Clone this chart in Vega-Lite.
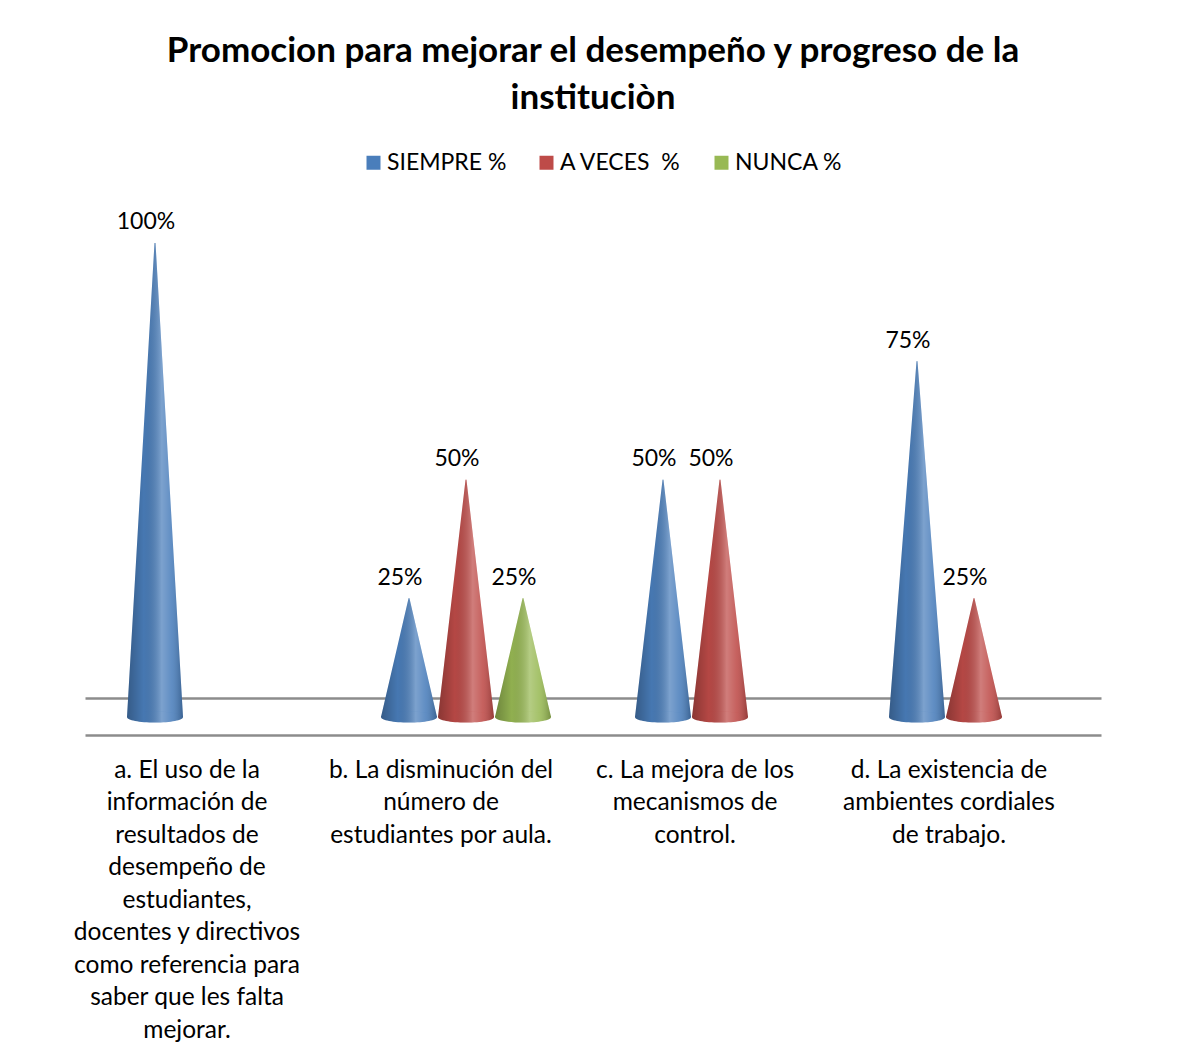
{
  "$schema": "https://vega.github.io/schema/vega-lite/v6.json",
  "width": 1016,
  "height": 474,
  "autosize": {"type": "none"},
  "padding": {"left": 85, "top": 243, "right": 76, "bottom": 342},
  "background": "white",
  "config": {"view": {"stroke": null}, "font": "Lato"},
  "title": {
    "text": ["Promocion para mejorar el desempeño y progreso de la", "instituciòn"],
    "fontSize": 35,
    "font": "Lato",
    "fontWeight": "bold",
    "lineHeight": 47,
    "anchor": "middle",
    "offset": 35,
    "color": "black"
  },
  "data": {
    "values": [
      {"cat": "a. El uso de la|información de|resultados de|desempeño de|estudiantes,|docentes y directivos|como referencia para|saber que les falta|mejorar.", "series": "SIEMPRE %", "value": 100},
      {"cat": "a. El uso de la|información de|resultados de|desempeño de|estudiantes,|docentes y directivos|como referencia para|saber que les falta|mejorar.", "series": "A VECES\u00a0 %", "value": 0},
      {"cat": "a. El uso de la|información de|resultados de|desempeño de|estudiantes,|docentes y directivos|como referencia para|saber que les falta|mejorar.", "series": "NUNCA %", "value": 0},
      {"cat": "b. La disminución del|número de|estudiantes por aula.", "series": "SIEMPRE %", "value": 25},
      {"cat": "b. La disminución del|número de|estudiantes por aula.", "series": "A VECES\u00a0 %", "value": 50},
      {"cat": "b. La disminución del|número de|estudiantes por aula.", "series": "NUNCA %", "value": 25},
      {"cat": "c. La mejora de los|mecanismos de|control.", "series": "SIEMPRE %", "value": 50},
      {"cat": "c. La mejora de los|mecanismos de|control.", "series": "A VECES\u00a0 %", "value": 50},
      {"cat": "c. La mejora de los|mecanismos de|control.", "series": "NUNCA %", "value": 0},
      {"cat": "d. La existencia de|ambientes cordiales|de trabajo.", "series": "SIEMPRE %", "value": 75},
      {"cat": "d. La existencia de|ambientes cordiales|de trabajo.", "series": "A VECES\u00a0 %", "value": 25},
      {"cat": "d. La existencia de|ambientes cordiales|de trabajo.", "series": "NUNCA %", "value": 0}
    ]
  },
  "transform": [{"filter": "datum.value > 0"}],
  "encoding": {
    "x": {
      "field": "cat",
      "type": "nominal",
      "sort": null,
      "scale": {"paddingInner": 0, "paddingOuter": 0},
      "axis": {
        "title": null,
        "labelAngle": 0,
        "labelExpr": "split(datum.label, '|')",
        "labelFontSize": 24.5,
        "labelLineHeight": 32.5,
        "labelOffset": -25,
        "labelPadding": 23,
        "labelBaseline": "top",
        "labelLimit": 0,
        "labelColor": "black",
        "labelFont": "Lato",
        "ticks": false,
        "domainColor": "#8c8c8c",
        "domainWidth": 2.5,
        "offset": 18
      }
    },
    "xOffset": {
      "field": "series",
      "type": "nominal",
      "scale": {"domain": ["SIEMPRE %", "A VECES\u00a0 %", "NUNCA %"], "range": [70, 184], "padding": 0}
    }
  },
  "layer": [
    {
      "transform": [
        {"calculate": "0", "as": "zero"},
        {"fold": ["zero", "value"], "as": ["end", "h"]},
        {"calculate": "datum.end == 'zero' ? 1 : 0", "as": "w"}
      ],
      "mark": {"type": "trail", "clip": true},
      "encoding": {
        "y": {"field": "h", "type": "quantitative", "scale": {"domain": [0, 100], "nice": false},
          "axis": {"values": [4], "grid": true, "gridColor": "#8c8c8c", "gridWidth": 2.5, "labels": false, "ticks": false, "domain": false, "title": null}},
        "size": {"field": "w", "type": "quantitative", "scale": {"domain": [0, 1], "range": [0, 56]}, "legend": null},
        "detail": [{"field": "cat"}, {"field": "series"}],
        "order": {"field": "h", "type": "quantitative"},
        "color": {
          "field": "series",
          "type": "nominal",
          "scale": {"domain": ["SIEMPRE %", "A VECES\u00a0 %", "NUNCA %"], "range": ["#4a7ebb", "#be4b48", "#98b954"]},
          "legend": {
            "orient": "none",
            "legendX": 277,
            "legendY": -92,
            "direction": "horizontal",
            "title": null,
            "symbolType": "square",
            "symbolSize": 196,
            "symbolStrokeWidth": 0,
            "labelFontSize": 23,
            "labelFont": "Lato",
            "labelColor": "black",
            "labelOffset": 2,
            "columnPadding": 28,
            "labelLimit": 0
          }
        }
      }
    },
    {
      "transform": [
        {"calculate": "0", "as": "zero"},
        {"fold": ["zero", "value"], "as": ["end", "h"]},
        {"calculate": "datum.end == 'zero' ? 1 : 0", "as": "w"}
      ],
      "mark": {
        "type": "trail",
        "clip": true,
        "color": {
          "gradient": "linear", "x1": 0, "y1": 0, "x2": 1, "y2": 0,
          "stops": [
            {"offset": 0, "color": "rgba(0,0,0,0.28)"},
            {"offset": 0.3, "color": "rgba(0,0,0,0.05)"},
            {"offset": 0.62, "color": "rgba(255,255,255,0.28)"},
            {"offset": 0.8, "color": "rgba(255,255,255,0.12)"},
            {"offset": 1, "color": "rgba(0,0,0,0.22)"}
          ]
        }
      },
      "encoding": {
        "y": {"field": "h", "type": "quantitative", "scale": {"domain": [0, 100], "nice": false}},
        "size": {"field": "w", "type": "quantitative", "scale": {"domain": [0, 1], "range": [0, 56]}, "legend": null},
        "detail": [{"field": "cat"}, {"field": "series"}],
        "order": {"field": "h", "type": "quantitative"}
      }
    },
    {
      "mark": {"type": "point", "shape": "M -1 0 A 1 0.2 0 1 0 1 0 A 1 0.2 0 1 0 -1 0 Z", "filled": true, "opacity": 1, "size": 3136},
      "encoding": {
        "y": {"datum": 0, "type": "quantitative", "scale": {"domain": [0, 100], "nice": false}},
        "color": {"field": "series", "type": "nominal"}
      }
    },
    {
      "mark": {
        "type": "point", "shape": "M -1 0 A 1 0.2 0 1 0 1 0 A 1 0.2 0 1 0 -1 0 Z", "filled": true, "opacity": 1, "size": 3136,
        "color": {
          "gradient": "linear", "x1": 0, "y1": 0, "x2": 1, "y2": 0,
          "stops": [
            {"offset": 0, "color": "rgba(0,0,0,0.28)"},
            {"offset": 0.3, "color": "rgba(0,0,0,0.05)"},
            {"offset": 0.62, "color": "rgba(255,255,255,0.28)"},
            {"offset": 0.8, "color": "rgba(255,255,255,0.12)"},
            {"offset": 1, "color": "rgba(0,0,0,0.22)"}
          ]
        }
      },
      "encoding": {
        "y": {"datum": 0, "type": "quantitative", "scale": {"domain": [0, 100], "nice": false}}
      }
    },
    {
      "transform": [{"calculate": "datum.value + '%'", "as": "lbl"}],
      "mark": {"type": "text", "fontSize": 23, "font": "Lato", "baseline": "middle", "dy": -21, "dx": -9, "color": "black"},
      "encoding": {
        "y": {"field": "value", "type": "quantitative", "scale": {"domain": [0, 100], "nice": false}},
        "text": {"field": "lbl"}
      }
    }
  ]
}
